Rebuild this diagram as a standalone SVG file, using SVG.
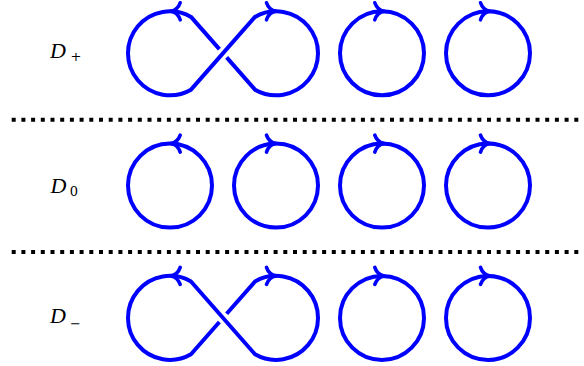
<svg xmlns="http://www.w3.org/2000/svg" xmlns:xlink="http://www.w3.org/1999/xlink" width="584" height="366" viewBox="0 0 584 366">
<style>
.k{fill:none;stroke:#0000ff;stroke-width:4}
.a{fill:none;stroke:#0000ff;stroke-width:3.6;stroke-linecap:round;stroke-linejoin:round}
.dot{fill:none;stroke:#000;stroke-width:4;stroke-dasharray:4 5.7}
.lab{font-family:"Liberation Serif","Times New Roman",serif;font-style:italic;font-size:22px;fill:#000}
.sub{font-family:"DejaVu Serif","Liberation Serif",serif;font-style:normal;font-size:13px;fill:#000}
</style>
<defs>
<path id="ar" class="a" d="M-8.5,-8.5 C-7,-4 -3.5,-0.8 1,0 C-3.5,0.8 -7,4 -8.5,8.5"/>
</defs>
<g id="separators">
<path class="dot" d="M11.7,119.8 H582"/>
<path class="dot" d="M11.7,252 H582"/>
</g>
<g id="label-Dplus"><text class="lab" x="50" y="58.3">D</text><text class="sub" x="70.5" y="61.3">+</text></g>
<g id="label-D0"><text class="lab" x="50.5" y="193.3">D</text><text class="sub" x="69.8" y="196">0</text></g>
<g id="label-Dminus"><text class="lab" x="50" y="323.3">D</text><text class="sub" x="70" y="327.8">−</text></g>
<g id="row-plus">
<g id="p-knot">
<path class="k" d="M219.37,49.17 L191,16.93 A42,42 0 1,0 191,89.67 L255,16.93 A42,42 0 1,1 255,89.67 L226.63,57.43"/>
<use xlink:href="#ar" transform="translate(171.7,11.3) scale(-1,1)"/>
<use xlink:href="#ar" transform="translate(275,11.3)"/>
</g>
<g id="p-c3"><circle class="k" cx="382" cy="53.3" r="42"/><use xlink:href="#ar" transform="translate(383.3,11.3)"/></g>
<g id="p-c4"><circle class="k" cx="488" cy="53.3" r="42"/><use xlink:href="#ar" transform="translate(489,11.3)"/></g>
</g>
<g id="row-zero">
<g id="z-c1"><circle class="k" cx="170" cy="185.6" r="42"/><use xlink:href="#ar" transform="translate(171.7,143.6) scale(-1,1)"/></g>
<g id="z-c2"><circle class="k" cx="276" cy="185.6" r="42"/><use xlink:href="#ar" transform="translate(275,143.6)"/></g>
<g id="z-c3"><circle class="k" cx="382" cy="185.6" r="42"/><use xlink:href="#ar" transform="translate(383.3,143.6)"/></g>
<g id="z-c4"><circle class="k" cx="488" cy="185.6" r="42"/><use xlink:href="#ar" transform="translate(489,143.6)"/></g>
</g>
<g id="row-minus">
<g id="m-knot">
<path class="k" d="M226.63,313.77 L255,281.53 A42,42 0 1,1 255,354.27 L191,281.53 A42,42 0 1,0 191,354.27 L219.37,322.03"/>
<use xlink:href="#ar" transform="translate(171.7,275.9) scale(-1,1)"/>
<use xlink:href="#ar" transform="translate(275,275.9)"/>
</g>
<g id="m-c3"><circle class="k" cx="382" cy="317.9" r="42"/><use xlink:href="#ar" transform="translate(383.3,275.9)"/></g>
<g id="m-c4"><circle class="k" cx="488" cy="317.9" r="42"/><use xlink:href="#ar" transform="translate(489,275.9)"/></g>
</g>
</svg>
